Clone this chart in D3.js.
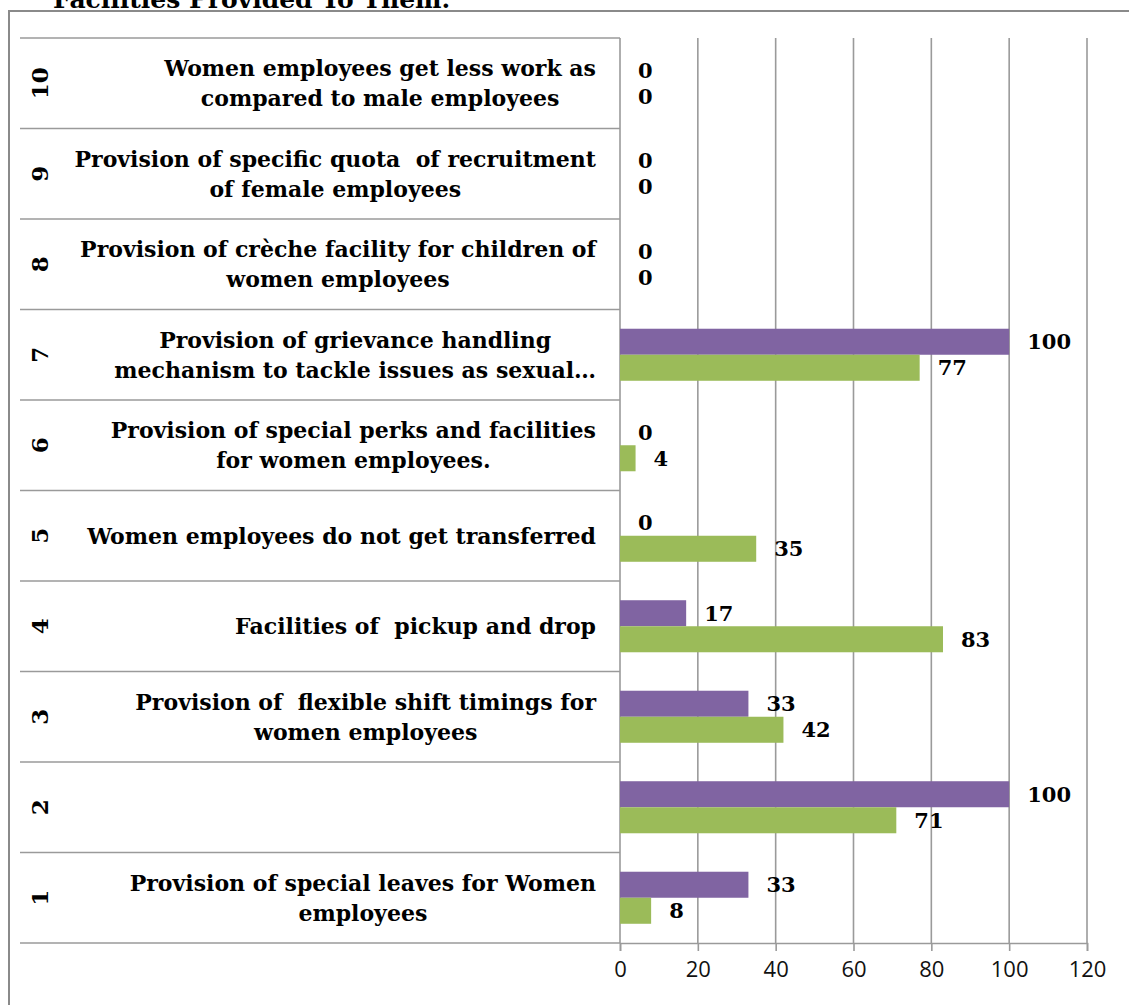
<!DOCTYPE html>
<html>
<head>
<meta charset="utf-8">
<script src="https://cdn.jsdelivr.net/npm/d3@7"></script>
<style>
  html, body { margin: 0; padding: 0; background: #fff; }
  svg { display: block; }
</style>
</head>
<body>
<svg id="chart" width="1129" height="1005"></svg>
<script>
// ---- data ----
const title = "Facilities Provided To Them.";
const categoryNumbers = ["1", "2", "3", "4", "5", "6", "7", "8", "9", "10"];
const categoryLabels = [
  ["Provision of special leaves for Women", "employees"],
  [],
  ["Provision of  flexible shift timings for", "women employees"],
  ["Facilities of  pickup and drop"],
  ["Women employees do not get transferred"],
  ["Provision of special perks and facilities", "for women employees."],
  ["Provision of grievance handling", "mechanism to tackle issues as sexual…"],
  ["Provision of crèche facility for children of", "women employees"],
  ["Provision of specific quota  of recruitment", "of female employees"],
  ["Women employees get less work as", "compared to male employees"]
];
const seriesNames = ["Series A", "Series B"];
const seriesA = [33, 100, 33, 17, 0, 0, 100, 0, 0, 0];   // purple
const seriesB = [8, 71, 42, 83, 35, 4, 77, 0, 0, 0];     // green
const xTicks = [0, 20, 40, 60, 80, 100, 120];

// ---- layout ----
const svg = d3.select("#chart");
const colors = ["#8064A2", "#9BBB59"];
const gridColor = "#9a9a9a";
const serif = "'DejaVu Serif', serif";

const plot = { left: 620, right: 1087, top: 38, bottom: 943 };
const labelLeft = 20;

const x = d3.scaleLinear().domain([0, 120]).range([plot.left, plot.right]);
// categories top-to-bottom: 10 ... 1
const y = d3.scaleBand()
  .domain(categoryNumbers.slice().reverse())
  .range([plot.top, plot.bottom])
  .padding(0);
const inner = d3.scaleBand()
  .domain(seriesNames)
  .range([y.bandwidth() * 0.2125, y.bandwidth() * 0.7875])
  .padding(0);

// outer frame
svg.append("path")
  .attr("d", `M9,1005 L9,11 L1129,11`)
  .attr("fill", "none").attr("stroke", "#8a8a8a").attr("stroke-width", 2);

// title (cut off at the top, as in the source)
svg.append("text")
  .attr("x", 53).attr("y", 8)
  .attr("font-family", serif).attr("font-weight", "bold")
  .attr("font-size", 25).attr("fill", "#000")
  .text(title);

// vertical gridlines
svg.append("g").selectAll("line").data(xTicks.filter(d => d > 0)).join("line")
  .attr("x1", d => x(d)).attr("x2", d => x(d))
  .attr("y1", plot.top).attr("y2", plot.bottom)
  .attr("stroke", gridColor).attr("stroke-width", 1.6);

// bottom axis
const xAxis = d3.axisBottom(x).tickValues(xTicks).tickSize(8).tickPadding(10);
const gx = svg.append("g").attr("transform", `translate(0,${plot.bottom})`).call(xAxis);
gx.select(".domain").attr("stroke", gridColor).attr("stroke-width", 1.6);
gx.selectAll(".tick line").attr("stroke", gridColor).attr("stroke-width", 1.6);
gx.selectAll(".tick text")
  .attr("font-family", "'Open Sans', sans-serif").attr("font-size", 22)
  .attr("fill", "#111");

// category separators (lines across the label area)
const boundaries = y.domain().map(d => y(d)).concat([plot.bottom]);
svg.append("g").selectAll("line").data(boundaries).join("line")
  .attr("x1", labelLeft).attr("x2", plot.left)
  .attr("y1", d => d).attr("y2", d => d)
  .attr("stroke", gridColor).attr("stroke-width", 1.6);

// vertical category axis line
svg.append("line")
  .attr("x1", plot.left).attr("x2", plot.left)
  .attr("y1", plot.top).attr("y2", plot.bottom)
  .attr("stroke", gridColor).attr("stroke-width", 1.6);

// bars
const rows = categoryNumbers.map((c, i) => ({ cat: c, vals: [seriesA[i], seriesB[i]] }));
const gRows = svg.append("g").selectAll("g").data(rows).join("g")
  .attr("transform", d => `translate(0,${y(d.cat)})`);

gRows.selectAll("rect").data(d => d.vals.map((v, j) => ({ v, s: seriesNames[j], j })))
  .join("rect")
  .attr("x", x(0))
  .attr("y", d => inner(d.s))
  .attr("width", d => x(d.v) - x(0))
  .attr("height", inner.bandwidth())
  .attr("fill", d => colors[d.j]);

// value labels
gRows.selectAll("text.val").data(d => d.vals.map((v, j) => ({ v, s: seriesNames[j], j })))
  .join("text").attr("class", "val")
  .attr("x", d => x(d.v) + 18)
  .attr("y", d => inner(d.s) + inner.bandwidth() / 2)
  .attr("dy", "0.36em")
  .attr("font-family", serif).attr("font-weight", "bold")
  .attr("font-size", 21).attr("fill", "#000")
  .text(d => d.v);

// category number labels (rotated)
svg.append("g").selectAll("text").data(categoryNumbers).join("text")
  .attr("transform", d => `translate(40,${y(d) + y.bandwidth() / 2}) rotate(-90)`)
  .attr("text-anchor", "middle").attr("dy", "0.36em")
  .attr("font-family", serif).attr("font-weight", "bold")
  .attr("font-size", 23).attr("fill", "#000")
  .text(d => d);

// category text labels: block right-aligned, lines centred within block
const labelRight = 596;
const lineGap = 30;
categoryNumbers.forEach((c, i) => {
  const lines = categoryLabels[i];
  if (!lines.length) return;
  const cy = y(c) + y.bandwidth() / 2;
  const g = svg.append("g");
  const texts = g.selectAll("text").data(lines).join("text")
    .attr("font-family", serif).attr("font-weight", "bold")
    .attr("font-size", 22).attr("fill", "#000")
    .attr("text-anchor", "middle")
    .attr("xml:space", "preserve")
    .attr("y", (d, k) => cy + (k - (lines.length - 1) / 2) * lineGap)
    .attr("dy", "0.36em")
    .text(d => d);
  let maxW = 0;
  texts.each(function () { maxW = Math.max(maxW, this.getComputedTextLength()); });
  texts.attr("x", labelRight - maxW / 2);
});
</script>
</body>
</html>
